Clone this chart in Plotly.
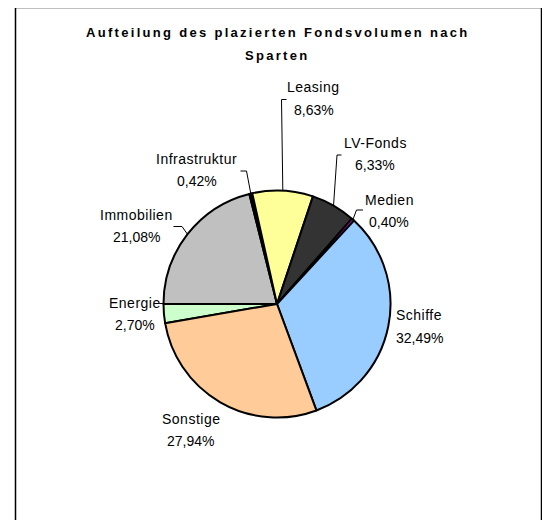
import math
import plotly.graph_objects as go

# ---------------- data ----------------
categories = ["Energie", "Immobilien", "Infrastruktur", "Leasing",
              "LV-Fonds", "Medien", "Schiffe", "Sonstige"]
shares = [2.70, 21.08, 0.42, 8.63, 6.33, 0.40, 32.49, 27.94]
title_lines = ["Aufteilung des plazierten Fondsvolumen nach", "Sparten"]

# ---------------- style / layout ----------------
colors = ["#CCFFCC", "#C0C0C0", "#000000", "#FFFF99",
          "#333333", "#CC00CC", "#99CCFF", "#FFCC99"]
PAGE_W, PAGE_H = 550, 528
OFF = 8                               # default page margin around the figure
W, H = PAGE_W - 2 * OFF, PAGE_H - 2 * OFF
CX, CY, R = 277, 304, 113.5          # pie centre / radius in page pixels
FONT = "Liberation Sans, Arial, sans-serif"

# label centres (page pixels): x, name line y, percent line y
label_pos = {
    "Energie":       (134.5, 303, 325),
    "Immobilien":    (136.5, 215, 237),
    "Infrastruktur": (196.5, 159, 181),
    "Leasing":       (313.5, 87, 109.5),
    "LV-Fonds":      (375, 143, 165),
    "Medien":        (389, 199.5, 221.5),
    "Schiffe":       (419, 315, 337.5),
    "Sonstige":      (190.5, 419, 441),
}
# leader line elbows (page pixels); last point is computed on the pie rim
leader_pts = {
    "Infrastruktur": [(240.5, 171), (246.5, 171)],
    "Leasing":       [(286.5, 99.5), (281.5, 99.5)],
    "LV-Fonds":      [(341.5, 155), (337, 155)],
    "Medien":        [(363, 210), (356.5, 210)],
    "Immobilien":    [(173.5, 226.5), (182, 226.5)],
}


def px(x):
    return (x - OFF) / W


def py(y):
    return 1 - (y - OFF) / H


def fmt(v):
    return f"{v:.2f}%".replace(".", ",")


total = sum(shares)
rotation = 270 - 360 * shares[0] / total

fig = go.Figure(go.Pie(
    labels=categories,
    values=shares,
    sort=False,
    direction="clockwise",
    rotation=rotation,
    textinfo="none",
    hoverinfo="label+percent",
    marker=dict(colors=colors, line=dict(color="#000000", width=2)),
    domain=dict(x=[px(CX - R), px(CX + R)], y=[py(CY + R), py(CY - R)]),
    showlegend=False,
))

annotations = []
shapes = []

# title
for t, yy in zip(title_lines, [32, 55]):
    annotations.append(dict(
        x=px(277.5), y=py(yy), xref="paper", yref="paper",
        text=f'<span style="letter-spacing:2.3px"><b>{t}</b></span>', showarrow=False,
        xanchor="center", yanchor="middle",
        font=dict(family=FONT, size=13, color="#000000")))

# labels and leaders
cum = 0.0
for cat, v in zip(categories, shares):
    mid = math.radians(rotation + 360 * (cum + v / 2) / total)
    cum += v
    lx, ny, pyy = label_pos[cat]
    annotations.append(dict(x=px(lx), y=py(ny), xref="paper", yref="paper",
                            text=f'<span style="letter-spacing:0.5px">{cat}</span>',
                            showarrow=False, xanchor="center", yanchor="middle",
                            font=dict(family=FONT, size=14, color="#000000")))
    annotations.append(dict(x=px(lx), y=py(pyy), xref="paper", yref="paper",
                            text=fmt(v), showarrow=False, xanchor="center", yanchor="middle",
                            font=dict(family=FONT, size=14, color="#000000")))
    if cat in leader_pts:
        pts = list(leader_pts[cat]) + [(CX + R * math.sin(mid), CY - R * math.cos(mid))]
        path = "M " + " L ".join(f"{px(a)},{py(b)}" for a, b in pts)
        shapes.append(dict(type="path", path=path, xref="paper", yref="paper",
                           line=dict(color="#000000", width=1)))

# Energie short leader
shapes.append(dict(type="line", xref="paper", yref="paper",
                   x0=px(159.5), y0=py(303.5), x1=px(164.5), y1=py(303.5),
                   line=dict(color="#000000", width=1)))

# outer frame
shapes.append(dict(type="rect", xref="paper", yref="paper",
                   x0=px(15.5), y0=py(545), x1=px(541.5), y1=py(7.5),
                   line=dict(color="#000000", width=1.5)))

fig.update_layout(
    width=W, height=H,
    margin=dict(l=0, r=0, t=0, b=0),
    paper_bgcolor="#FFFFFF",
    plot_bgcolor="#FFFFFF",
    annotations=annotations,
    shapes=shapes,
)

fig.write_html("out.html")
